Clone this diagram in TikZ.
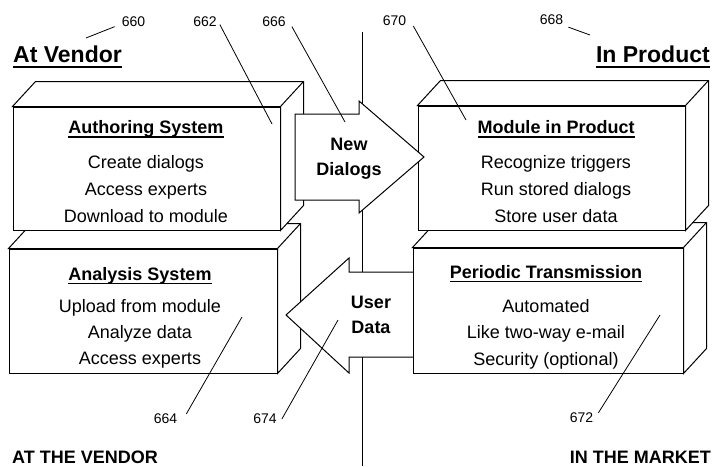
\documentclass[tikz,border=0pt]{standalone}
\usepackage{fontspec}
\setmainfont{Liberation Sans}
\newcommand\ulx[3]{\setbox0\hbox{#3}\rlap{\rule[-#1]{\wd0}{#2}}\box0}
\newcommand\depthfaces[1]{%
  \draw[side] (#1.north west) -- ++(23,-25) -- ([shift={(23,-25)}]#1.north east)
    -- ([shift={(23,-25)}]#1.south east) -- (#1.south east) -- (#1.north east) -- cycle;
  \draw[side] (#1.north east) -- ++(23,-25);}
\tikzset{
  face/.style={draw, fill=white, line width=1pt, inner sep=0pt},
  side/.style={draw, fill=white, line width=1pt, line join=miter},
  txt/.style={inner sep=0pt, anchor=base, font=\fontsize{18}{18}\selectfont},
  ttl/.style={inner sep=0pt, anchor=base, font=\fontsize{18}{18}\selectfont\bfseries},
  num/.style={inner sep=0pt, font=\fontsize{14}{14}\selectfont},
  lead/.style={line width=0.8pt},
  bigarrow/.style={draw, fill=white, line width=1pt, line join=miter},
  head/.style={inner sep=0pt, font=\fontsize{23}{23}\selectfont\bfseries},
  foot/.style={inner sep=0pt, font=\fontsize{18}{18}\selectfont\bfseries},
}
\begin{document}
\begin{tikzpicture}[x=1pt,y=-1pt]
\useasboundingbox (0,0) rectangle (715,466);
\coordinate (divtop) at (362,32);
\coordinate (divbot) at (362,466);
\draw[line width=1pt] (divtop) -- (divbot);

% lower left box
\node[face, minimum width=268pt, minimum height=124pt] (B) at (143,311) {};
\depthfaces{B}
% User Data arrow
\draw[bigarrow] (413,272) -- (349,272) -- (349,258) -- (286,315) -- (349,373) -- (349,357) -- (413,357);
% lower right box
\node[face, minimum width=270pt, minimum height=125pt] (P) at (548,310.5) {};
\depthfaces{P}
% upper boxes
\node[face, minimum width=267pt, minimum height=123pt] (A) at (146.5,168.5) {};
\depthfaces{A}
\node[face, minimum width=267pt, minimum height=124pt] (M) at (551.5,168) {};
\depthfaces{M}
% New Dialogs arrow
\draw[bigarrow] (295,114) -- (359,114) -- (359,101) -- (424,157) -- (359,213) -- (359,200) -- (295,200) -- cycle;

% box texts
\node[ttl] (A0) at (146,133.5) {\ulx{4pt}{1.5pt}{Authoring System}};
\node[txt] (A1) at (146,168) {Create dialogs};
\node[txt] (A2) at (146,195) {Access experts};
\node[txt] (A3) at (146,222) {Download to module};

\node[ttl] (M0) at (556,133.5) {\ulx{4pt}{1.5pt}{Module in Product}};
\node[txt] (M1) at (556,168) {Recognize triggers};
\node[txt] (M2) at (556,195) {Run stored dialogs};
\node[txt] (M3) at (556,222) {Store user data};

\node[ttl] (B0) at (140,280) {\ulx{4pt}{1.5pt}{Analysis System}};
\node[txt] (B1) at (140,312) {Upload from module};
\node[txt] (B2) at (140,338) {Analyze data};
\node[txt] (B3) at (140,364) {Access experts};

\node[ttl] (P0) at (546,278) {\ulx{4pt}{1.5pt}{Periodic Transmission}};
\node[txt] (P1) at (546,312) {Automated};
\node[txt] (P2) at (546,338) {Like two-way e-mail};
\node[txt] (P3) at (546,365) {Security (optional)};

\node[ttl] (ND1) at (349,150) {New};
\node[ttl] (ND2) at (349,175) {Dialogs};
\node[ttl] (UD1) at (371,308) {User};
\node[ttl] (UD2) at (371,333) {Data};

% headings
\node[head, anchor=base west] (hvend) at (13,62) {\ulx{6pt}{2.2pt}{At Vendor}};
\node[head, anchor=base east] (hprod) at (710,62) {\ulx{6pt}{2.2pt}{In Product}};
\node[foot, anchor=base west] (fvend) at (12,463) {AT THE VENDOR};
\node[foot, anchor=base east] (fmark) at (711,463) {IN THE MARKET};

% reference numerals
\node[num] (n660) at (133.5,21.5) {660};
\node[num] (n662) at (205,21.5) {662};
\node[num] (n666) at (274,21.5) {666};
\node[num] (n670) at (394.5,21) {670};
\node[num] (n668) at (551.5,20) {668};
\node[num] (n664) at (165.5,419) {664};
\node[num] (n674) at (265,419) {674};
\node[num] (n672) at (581.5,418) {672};

\coordinate (t660) at (86,38);
\coordinate (t662) at (272,124);
\coordinate (t666) at (345,122);
\coordinate (t670) at (466,120);
\coordinate (t668) at (590,35);
\coordinate (t664) at (242,317);
\coordinate (t674) at (338,320);
\coordinate (t672) at (660,315);

\draw[lead] ([shift={(-7,0)}]n660.south west) -- (t660);
\draw[lead] ([shift={(3,-2)}]n662.south east) -- (t662);
\draw[lead] ([shift={(6,0)}]n666.south east) -- (t666);
\draw[lead] ([shift={(7,0)}]n670.south east) -- (t670);
\draw[lead] ([shift={(5,2)}]n668.south east) -- (t668);
\draw[lead] ([shift={(9,0)}]n664.north east) -- (t664);
\draw[lead] ([shift={(5,0)}]n674.east) -- (t674);
\draw[lead] ([shift={(5,0)}]n672.north east) -- (t672);
\end{tikzpicture}
\end{document}
